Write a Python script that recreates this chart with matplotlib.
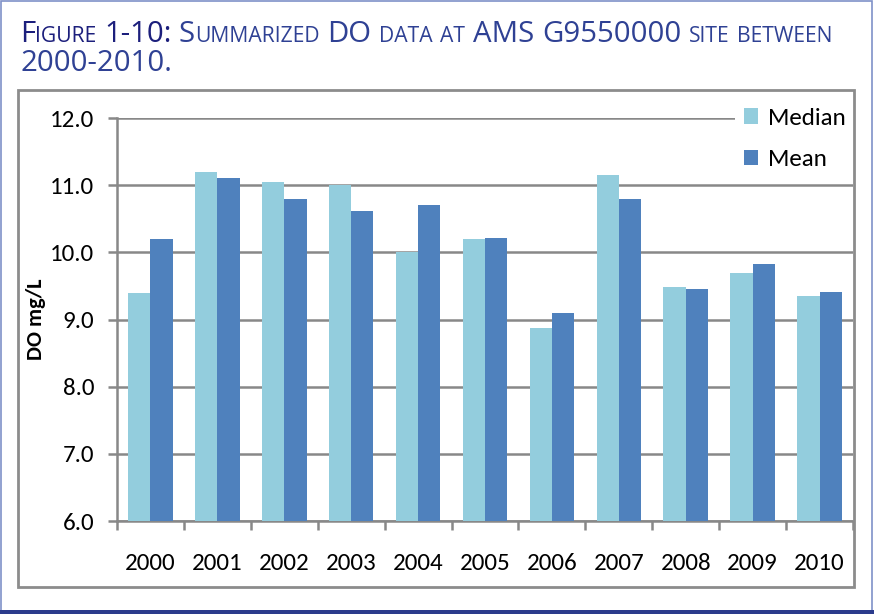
import numpy as np
import matplotlib
matplotlib.use("Agg")
import matplotlib.pyplot as plt
from matplotlib.patches import Rectangle

# Dissolved oxygen summary per year
years = ['2000', '2001', '2002', '2003', '2004', '2005', '2006', '2007', '2008', '2009', '2010']
median_do = [9.4, 11.2, 11.05, 11.0, 10.0, 10.2, 8.88, 11.15, 9.48, 9.69, 9.35]
mean_do = [10.2, 11.11, 10.79, 10.61, 10.71, 10.21, 9.1, 10.79, 9.45, 9.83, 9.41]
y_ticks = [6.0, 7.0, 8.0, 9.0, 10.0, 11.0, 12.0]

title_line1 = "Figure 1-10: Summarized DO data at AMS G9550000 site between"
title_line2 = "2000-2010."

W, H = 874, 614
body_font = ['Carlito', 'Lato', 'DejaVu Sans']
title_font = ['Liberation Sans Narrow', 'Open Sans', 'DejaVu Sans']
grey = '#888888'

fig = plt.figure(figsize=(W / 100, H / 100), dpi=100)
renderer = fig.canvas.get_renderer()

# outer page frame and grey chart box
fig.patches.append(Rectangle((0.5 / W, 0), (W - 3) / W, 1 - 0.5 / H, transform=fig.transFigure,
                             fill=False, edgecolor='#7F91C8', linewidth=1.2))
fig.patches.append(Rectangle((0, 0), 1, 4.5 / H, transform=fig.transFigure,
                             facecolor='#2B3B8C', edgecolor='none'))
fig.patches.append(Rectangle((18 / W, 1 - 587 / H), 836 / W, 497 / H, transform=fig.transFigure,
                             fill=False, edgecolor='#8C8C8C', linewidth=2))


def small_caps(line, x0, base_y, big, ratio, color_for):
    """Write a line in small caps, word by word; returns the drawn texts and end x."""
    texts = []
    x = x0
    sp = fig.text(0, 0, 'a a', fontsize=big, family=title_font)
    nsp = fig.text(0, 0, 'aa', fontsize=big, family=title_font)
    space = sp.get_window_extent(renderer).width - nsp.get_window_extent(renderer).width
    sp.remove()
    nsp.remove()
    for k, word in enumerate(line.split(' ')):
        color = color_for(k)
        segs = []
        for ch in word:
            lower = ch.islower()
            if segs and segs[-1][1] == lower:
                segs[-1][0] += ch
            else:
                segs.append([ch, lower])
        for seg, lower in segs:
            size = big * ratio if lower else big
            t = fig.text(x / W, 1 - base_y / H, seg.upper(), fontsize=size, color=color,
                         family=title_font, ha='left', va='baseline')
            x += t.get_window_extent(renderer).width
            texts.append(t)
        x += space
    return texts, x - space


def title_color(k):
    return '#1C1F7C' if k < 2 else '#2F4194'


big = 19
texts, x_end = small_caps(title_line1, 20, 42, big, 0.72, title_color)
scale = (834 - 20) / (x_end - 20)
for t in texts:
    t.remove()
big = big * scale
small_caps(title_line1, 20, 42, big, 0.72, title_color)
small_caps(title_line2, 20, 71, big, 0.72, lambda k: '#2F4194')

# plot area
ax = fig.add_axes([117 / W, 1 - 521 / H, 736 / W, 403 / H])
x = np.arange(len(years))
w = 1 / 3
ax.bar(x - w / 2, median_do, width=w, color='#93CDDD', label='Median', zorder=3)
ax.bar(x + w / 2, mean_do, width=w, color='#4F81BD', label='Mean', zorder=3)

ax.set_xlim(-0.5, len(years) - 0.5)
ax.set_ylim(y_ticks[0], y_ticks[-1])
ax.set_yticks(y_ticks)
ax.set_yticklabels(['%.1f' % v for v in y_ticks])
ax.yaxis.grid(True, color=grey, linewidth=1.8, zorder=0)
ax.set_axisbelow(True)

ax.set_xticks(x)
ax.set_xticklabels(years)
ax.set_xticks(np.arange(-0.5, len(years), 1.0), minor=True)
ax.tick_params(axis='x', which='major', length=0, pad=23, labelsize=18)
ax.tick_params(axis='x', which='minor', length=6.5, width=1.8, color=grey)
ax.tick_params(axis='y', length=6.5, width=1.8, color=grey, pad=10, labelsize=18)
for lab in ax.get_xticklabels() + ax.get_yticklabels():
    lab.set_family(body_font)

for side in ['top', 'right']:
    ax.spines[side].set_visible(False)
for side in ['left', 'bottom']:
    ax.spines[side].set_color(grey)
    ax.spines[side].set_linewidth(1.8)

ax.set_ylabel('DO mg/L', fontsize=16, fontweight='bold', family=body_font, labelpad=3)

leg = ax.legend(loc='upper right', bbox_to_anchor=(854 / W, 1 - 99 / H),
                bbox_transform=fig.transFigure, prop={'family': body_font, 'size': 18},
                frameon=True, fancybox=False, framealpha=1, edgecolor='none',
                handlelength=0.56, handleheight=0.56, handletextpad=0.4,
                labelspacing=0.82, borderpad=0.35, borderaxespad=0)
leg.set_zorder(5)

fig.savefig('out.png', dpi=100)
